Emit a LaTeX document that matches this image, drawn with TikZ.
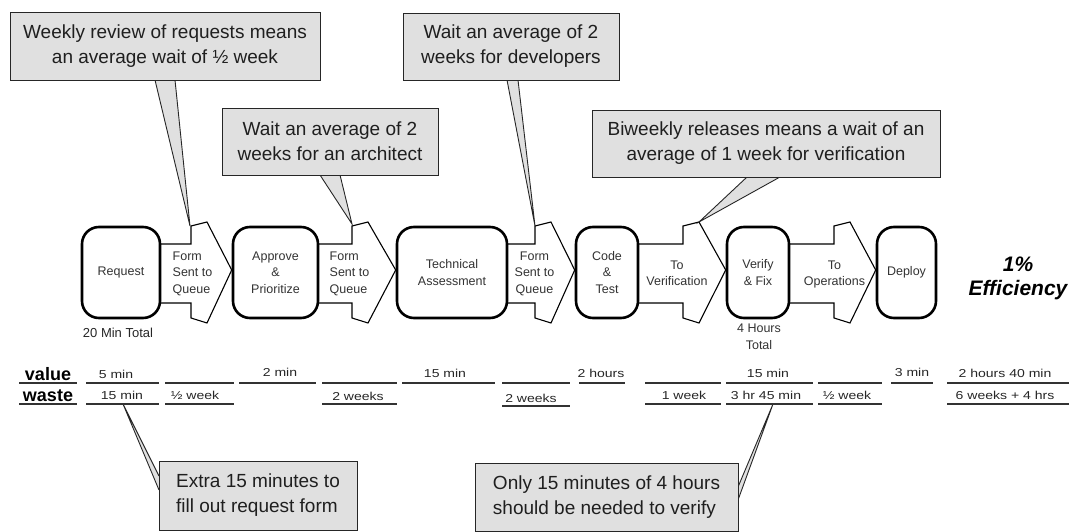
\documentclass[tikz,border=0pt]{standalone}
\usepackage{fontspec}
\setmainfont{Liberation Sans}
\newfontfamily\tlfont[FakeStretch=1.22]{Liberation Sans}
\usetikzlibrary{calc}
\pgfdeclarelayer{bg}
\pgfsetlayers{bg,main}
\newcommand\flowarr[3]{%
  \draw[flow] ($(#1.east)+(-4,-28.5)$) -- (#3,244) -- (#3,226) -- ({#3+16},222)
    -- ($(#2.west)+(0,-2.5)$) -- ({#3+16},323) -- (#3,318) -- (#3,303)
    -- ($(#1.east)+(-4,30.5)$) -- cycle;}
\begin{document}
\begin{tikzpicture}[x=1pt,y=-1pt,
  callout/.style={draw=black!85, fill=black!12, line width=0.9pt},
  cbox/.style={callout, inner sep=0pt, align=center, text=black!88,
    font=\fontsize{19}{25}\selectfont},
  procbox/.style={draw=black, line width=2.6pt, rounded corners=17pt, fill=white,
    inner sep=0pt, minimum height=91pt, align=center, text=black!80,
    font=\fontsize{12.5}{16.5}\selectfont},
  ptext/.style={inner sep=0pt, text=black!80, font=\fontsize{12.5}{16.5}\selectfont},
  flow/.style={draw=black, line width=1.1pt, fill=white, line join=miter},
  tl/.style={inner sep=0pt, anchor=base, text=black!85, font=\tlfont\fontsize{11.5}{13}\selectfont},
  tline/.style={line width=1.1pt, draw=black!80},
  lbl/.style={inner sep=0pt, anchor=base, font=\fontsize{18}{20}\selectfont\bfseries}
]
\useasboundingbox (0,0) rectangle (1073,532);

% process boxes
\node[procbox, minimum width=78pt] (req) at (121,272.5) {Request};
\node[procbox, minimum width=85pt] (app) at (275.5,272.5) {Approve\\\&\\Prioritize};
\node[procbox, minimum width=110pt] (tech) at (452,272.5) {Technical\\Assessment};
\node[procbox, minimum width=62pt] (code) at (607,272.5) {Code\\\&\\Test};
\node[procbox, minimum width=62pt] (ver) at (758,272.5) {Verify\\\& Fix};
\node[procbox, minimum width=59pt] (dep) at (906.5,272.5) {Deploy};

% flow arrows
\begin{pgfonlayer}{bg}
\flowarr{req}{app}{191}
\flowarr{app}{tech}{352}
\flowarr{tech}{code}{535}
\flowarr{code}{ver}{683}
\flowarr{ver}{dep}{834}
\end{pgfonlayer}

\node[ptext, align=left] (a1) at (192.5,273.5) {Form\\Sent to\\Queue};
\node[ptext, align=left] (a2) at (349.5,273.5) {Form\\Sent to\\Queue};
\node[ptext, align=center] (a3) at (534.5,273.5) {Form\\Sent to\\Queue};
\node[ptext, align=center] (a4) at (677,273.5) {To\\Verification};
\node[ptext, align=center] (a5) at (834.5,274.5) {To\\Operations};

\node[inner sep=0pt, text=black!85, font=\fontsize{13}{14}\selectfont] (rtot) at (118,333) {20 Min Total};
\node[ptext, align=center] (vtot) at (759,337) {4 Hours\\Total};

\node[inner sep=0pt, align=center, font=\fontsize{21}{24}\selectfont\bfseries\itshape] (eff) at (1018,278) {1\%\\Efficiency};

% pointer tips
\coordinate (t1) at (190,226);
\coordinate (t2) at (352,224);
\coordinate (t3) at (535,226);
\coordinate (t4) at (699,222);
\coordinate (t5) at (123,404);
\coordinate (t6) at (773,404);

% callouts: pointers then boxes
\draw[callout] (155,80) -- (t1) -- (175,80);
\draw[callout] (320,175) -- (t2) -- (340,175);
\draw[callout] (507,80) -- (t3) -- (518,80);
\draw[callout] (747,177) -- (t4) -- (780,177);
\draw[callout] (159,476) -- (t5) -- (159,490);
\draw[callout] (738,487) -- (t6) -- (738,500);

\node[cbox, minimum width=310pt, minimum height=68pt] (c1) at (165,46)
  {Weekly review of requests means\\an average wait of ½ week};
\node[cbox, minimum width=216pt, minimum height=67pt] (c2) at (330,141.5)
  {Wait an average of 2\\weeks for an architect};
\node[cbox, minimum width=216pt, minimum height=67pt] (c3) at (511,46.5)
  {Wait an average of 2\\weeks for developers};
\node[cbox, minimum width=348pt, minimum height=67pt] (c4) at (766,143.5)
  {Biweekly releases means a wait of an\\average of 1 week for verification};
\node[cbox, align=left, minimum width=198pt, minimum height=69pt] (c5) at (258,495.5)
  {Extra 15 minutes to\\fill out request form};
\node[cbox, align=left, minimum width=263pt, minimum height=68pt] (c6) at (606.5,497)
  {Only 15 minutes of 4 hours\\should be needed to verify};

% timeline
\node[lbl] (lv) at (48,380) {value};
\node[lbl] (lw) at (48,401) {waste};
\draw[tline] (19,383) -- (77,383);
\draw[tline] (19,404) -- (77,404);
\foreach \a/\b in {86/159,165/234,239/316,322/397,402/495,502/570,579/625,645/721,726/813,818/882,891/933,947/1069}
  \draw[tline] (\a,383) -- (\b,383);
\foreach \a/\b in {86/159,165/234,322/397,645/721,726/813,818/882,947/1069}
  \draw[tline] (\a,404) -- (\b,404);
\draw[tline] (502,406) -- (570,406);

\node[tl] (v1) at (116,378) {5 min};
\node[tl] (v3) at (280,376) {2 min};
\node[tl] (v5) at (445,377) {15 min};
\node[tl] (v7) at (601,377) {2 hours};
\node[tl] (v9) at (768,377) {15 min};
\node[tl] (v11) at (912,376) {3 min};
\node[tl] (v12) at (1005,377) {2 hours 40 min};

\node[tl] (w1) at (122,399) {15 min};
\node[tl] (w2) at (195,399) {½ week};
\node[tl] (w4) at (358,400) {2 weeks};
\node[tl] (w6) at (531,402) {2 weeks};
\node[tl] (w8) at (684,399) {1 week};
\node[tl] (w9) at (766,399) {3 hr 45 min};
\node[tl] (w10) at (847,399) {½ week};
\node[tl] (w12) at (1005,399) {6 weeks + 4 hrs};
\end{tikzpicture}
\end{document}
